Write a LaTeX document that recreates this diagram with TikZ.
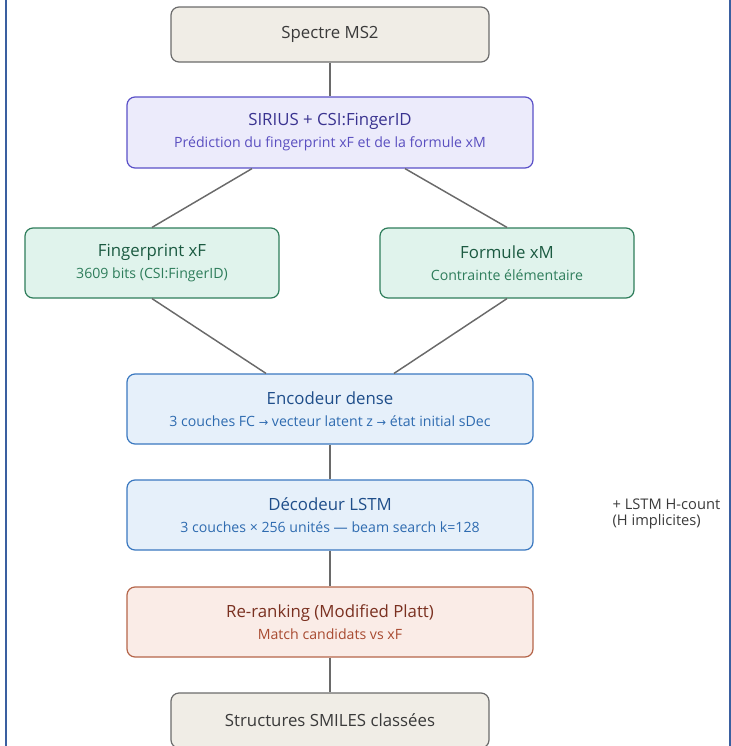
\documentclass[tikz,border=0pt]{standalone}
\usepackage{fontspec}
\setmainfont{Open Sans}
\newfontfamily\arrowfont{DejaVu Sans}
\usepackage{tikz}
\usetikzlibrary{shapes,shapes.misc}

\definecolor{frameblue}{HTML}{3A5FA0}
\definecolor{linkgray}{HTML}{6A6A6A}
\definecolor{inFill}{HTML}{F0EDE6}
\definecolor{inDraw}{HTML}{6B6B6B}
\definecolor{inText}{HTML}{3A3A3A}
\definecolor{sirFill}{HTML}{ECEBFB}
\definecolor{sirDraw}{HTML}{5A50C8}
\definecolor{sirText}{HTML}{3A3390}
\definecolor{sirSub}{HTML}{5A4FC0}
\definecolor{grFill}{HTML}{E0F3EC}
\definecolor{grDraw}{HTML}{2E7D5B}
\definecolor{grText}{HTML}{1B5A41}
\definecolor{grSub}{HTML}{2E7D5B}
\definecolor{blFill}{HTML}{E6F0FA}
\definecolor{blDraw}{HTML}{3A78C0}
\definecolor{blText}{HTML}{1F4E8A}
\definecolor{blSub}{HTML}{2E6BB0}
\definecolor{rdFill}{HTML}{FAECE7}
\definecolor{rdDraw}{HTML}{B5654A}
\definecolor{rdText}{HTML}{7A3020}
\definecolor{rdSub}{HTML}{A84A30}

\newcommand{\ttl}[1]{{\fontsize{12.6}{14.5}\selectfont #1}}
\newcommand{\sub}[1]{{\fontsize{10.6}{12.5}\selectfont #1}}
\newcommand{\side}[1]{{\fontsize{11}{13.2}\selectfont #1}}
\newcommand{\arr}{{\arrowfont\fontsize{8.5}{10}\selectfont →}}

\begin{document}
\begin{tikzpicture}[x=0.75pt, y=-0.75pt,
        every node/.style={rounded corners=6pt, line width=0.9pt, align=center},
        link/.style={draw=linkgray, line width=1.1pt}]
      \tikzstyle{endbox} = [draw=inDraw, fill=inFill, text=inText, minimum width=238.5pt, minimum height=41.25pt]
      \tikzstyle{sirbox} = [draw=sirDraw, fill=sirFill, minimum width=304.5pt, minimum height=53.25pt]
      \tikzstyle{grbox} = [draw=grDraw, fill=grFill, minimum width=190.5pt, minimum height=52.5pt]
      \tikzstyle{blbox} = [draw=blDraw, fill=blFill, minimum width=304.5pt, minimum height=52.5pt]
      \tikzstyle{rdbox} = [draw=rdDraw, fill=rdFill, minimum width=304.5pt, minimum height=52.5pt]
      \useasboundingbox (0,0) rectangle (731,746);
      \draw[frameblue, line width=1.5pt] (6,0) -- (6,746);
      \draw[frameblue, line width=1.5pt] (730,0) -- (730,746);

      \node (spectre) [endbox] at (330,34.5) {\ttl{Spectre MS2}};
      \node (sirius) [sirbox] at (330,132.5)
        {\textcolor{sirText}{\ttl{SIRIUS + CSI:FingerID}}\\[4.5pt]
         \textcolor{sirSub}{\sub{Prédiction du fingerprint xF et de la formule xM}}};
      \node (fp) [grbox] at (152,263)
        {\textcolor{grText}{\ttl{Fingerprint xF}}\\[4.5pt]
         \textcolor{grSub}{\sub{3609 bits (CSI:FingerID)}}};
      \node (formule) [grbox] at (507,263)
        {\textcolor{grText}{\ttl{Formule xM}}\\[4.5pt]
         \textcolor{grSub}{\sub{Contrainte élémentaire}}};
      \node (encodeur) [blbox] at (330,409)
        {\textcolor{blText}{\ttl{Encodeur dense}}\\[4.5pt]
         \textcolor{blSub}{\sub{3 couches FC \arr{} vecteur latent z \arr{} état initial sDec}}};
      \node (decodeur) [blbox] at (330,515)
        {\textcolor{blText}{\ttl{Décodeur LSTM}}\\[4.5pt]
         \textcolor{blSub}{\sub{3 couches × 256 unités — beam search k=128}}};
      \node (rerank) [rdbox] at (330,622)
        {\textcolor{rdText}{\ttl{Re-ranking (Modified Platt)}}\\[4.5pt]
         \textcolor{rdSub}{\sub{Match candidats vs xF}}};
      \node (smiles) [endbox] at (330,720.5) {\ttl{Structures SMILES classées}};
      \node (hcount) [anchor=west, align=left, text=inText, inner sep=0pt] at (612,514)
        {\side{+ LSTM H-count}\\\side{(H implicites)}};

      \draw[link] (spectre) -- (sirius);
      \draw[link] ([xshift=-78*0.75pt]sirius.south) -- (fp.north);
      \draw[link] ([xshift=75*0.75pt]sirius.south) -- (formule.north);
      \draw[link] (fp.south) -- ([xshift=-64*0.75pt]encodeur.north);
      \draw[link] (formule.south) -- ([xshift=64*0.75pt]encodeur.north);
      \draw[link] (encodeur) -- (decodeur);
      \draw[link] (decodeur) -- (rerank);
      \draw[link] (rerank) -- (smiles);
    \end{tikzpicture}
\end{document}
